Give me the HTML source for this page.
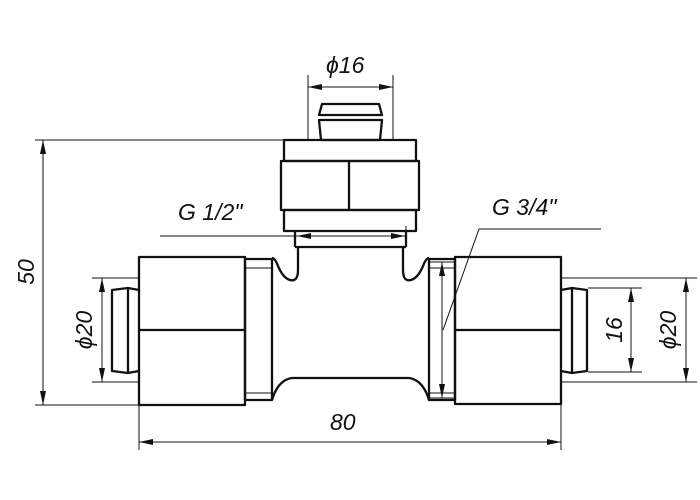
<!DOCTYPE html>
<html><head><style>body{margin:0;background:#fff}svg{display:block}text{font-family:"Liberation Sans",sans-serif;font-style:italic;font-size:23px;fill:#111}</style></head><body>
<svg width="700" height="500" viewBox="0 0 700 500" xmlns="http://www.w3.org/2000/svg">
<defs><marker id="a" viewBox="0 0 14 6" refX="14" refY="3" markerWidth="14" markerHeight="6" orient="auto-start-reverse" markerUnits="userSpaceOnUse"><path d="M0,0L14,3L0,6z" fill="#111"/></marker></defs>
<g stroke="#111" stroke-width="1" fill="none">
<line x1="308" y1="75" x2="308" y2="140"/><line x1="393" y1="75" x2="393" y2="140"/>
<line x1="308" y1="87" x2="393" y2="87" marker-start="url(#a)" marker-end="url(#a)"/>
<line x1="35" y1="140" x2="284" y2="140"/><line x1="35" y1="405" x2="139" y2="405"/>
<line x1="43" y1="140" x2="43" y2="405" marker-start="url(#a)" marker-end="url(#a)"/>
<line x1="139" y1="405" x2="139" y2="450"/><line x1="561" y1="405" x2="561" y2="450"/>
<line x1="139" y1="442" x2="561" y2="442" marker-start="url(#a)" marker-end="url(#a)"/>
<line x1="92" y1="278" x2="139" y2="278"/><line x1="92" y1="382" x2="139" y2="382"/>
<line x1="102" y1="278" x2="102" y2="382" marker-start="url(#a)" marker-end="url(#a)"/>
<line x1="561" y1="278" x2="697" y2="278"/><line x1="561" y1="382" x2="697" y2="382"/>
<line x1="686" y1="278" x2="686" y2="382" marker-start="url(#a)" marker-end="url(#a)"/>
<line x1="588" y1="288" x2="642" y2="288"/><line x1="588" y1="372" x2="642" y2="372"/>
<line x1="631" y1="288" x2="631" y2="372" marker-start="url(#a)" marker-end="url(#a)"/>
<line x1="160" y1="236" x2="300" y2="236"/>
<line x1="297" y1="236" x2="405" y2="236" marker-start="url(#a)" marker-end="url(#a)"/>
<line x1="406" y1="226" x2="406" y2="236"/>
<line x1="430" y1="262" x2="455" y2="262"/><line x1="430" y1="398" x2="455" y2="398"/>
<line x1="442" y1="262" x2="442" y2="398" marker-start="url(#a)" marker-end="url(#a)"/>
<polyline points="601,229 479,229 443,330"/>
</g>
<g stroke="#111" stroke-width="2.3" fill="none" stroke-linejoin="round">
<path d="M322,104H379L382,115H319Z"/><path d="M319,120H382L380,140H321Z"/>
<rect x="284" y="140" width="132" height="21"/>
<rect x="281" y="161" width="138" height="49"/><line x1="349" y1="161" x2="349" y2="210"/>
<rect x="284" y="210" width="132" height="21"/>
<line x1="295" y1="231" x2="295" y2="247"/><line x1="406" y1="231" x2="406" y2="247"/>
<line x1="295" y1="247" x2="406" y2="247"/>
<path d="M298,247V270Q298,282 290,280Q283,278 278,266Q275,258 272,258"/>
<path d="M403,247V270Q403,282 411,280Q418,278 423,266Q426,258 429,258"/>
<path d="M272,400Q278,380 292,378H409Q423,380 429,400"/>
<rect x="139" y="257" width="106" height="148"/><line x1="139" y1="330" x2="245" y2="330"/>
<rect x="245" y="259" width="27" height="141"/>
<line x1="245" y1="268" x2="272" y2="268" stroke-width="1"/><line x1="245" y1="393" x2="272" y2="393" stroke-width="1"/>
<path d="M139,290L128,288L112,290V371L128,373L139,371"/><line x1="128" y1="288" x2="128" y2="373"/>
<rect x="455" y="257" width="106" height="147"/><line x1="455" y1="330" x2="561" y2="330"/>
<rect x="429" y="259" width="26" height="141"/>
<line x1="429" y1="268" x2="455" y2="268" stroke-width="1"/><line x1="429" y1="393" x2="455" y2="393" stroke-width="1"/>
<path d="M561,290L572,288L587,290V371L572,373L561,371"/><line x1="572" y1="288" x2="572" y2="373"/>
</g>
<text x="326" y="73">ϕ16</text>
<text x="178" y="220">G 1/2"</text>
<text x="492" y="215">G 3/4"</text>
<text x="330" y="430">80</text>
<text transform="translate(34,272) rotate(-90)" text-anchor="middle">50</text>
<text transform="translate(92,330) rotate(-90)" text-anchor="middle">ϕ20</text>
<text transform="translate(622,330) rotate(-90)" text-anchor="middle">16</text>
<text transform="translate(676,330) rotate(-90)" text-anchor="middle">ϕ20</text>
</svg>
</body></html>
